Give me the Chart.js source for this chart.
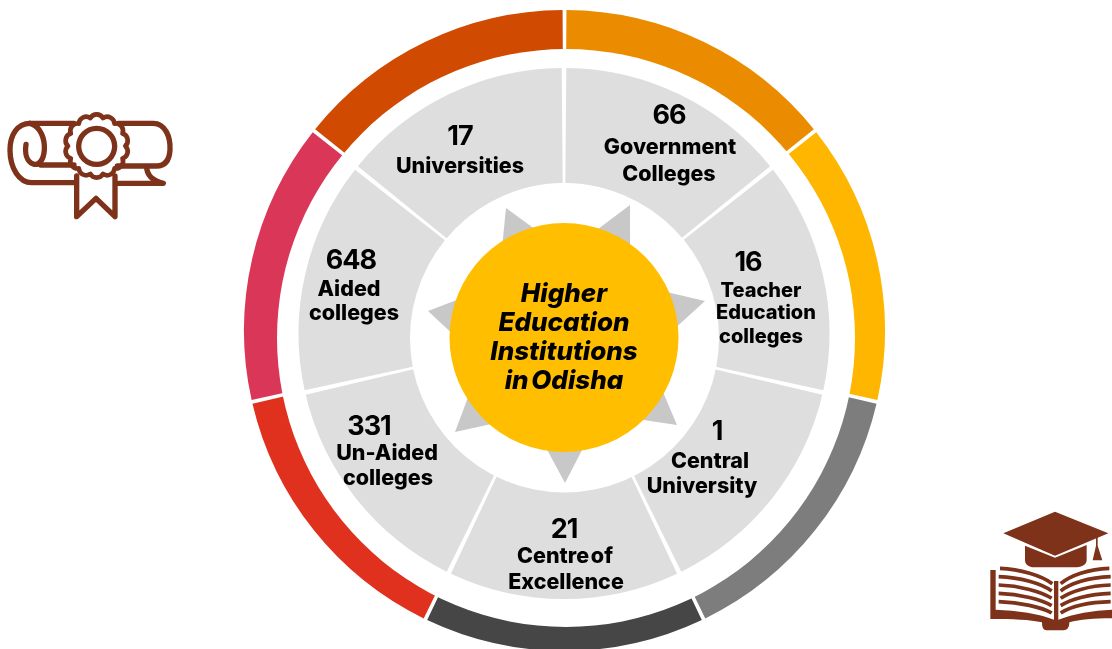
<!DOCTYPE html>
<html>
<head>
<meta charset="utf-8">
<title>Higher Education Institutions in Odisha</title>
<script src="https://cdn.jsdelivr.net/npm/chart.js@4"></script>
<style>
html, body { margin: 0; padding: 0; width: 1112px; height: 649px; overflow: hidden; background: #fff; }
canvas { position: absolute; left: 0; top: 0; }
svg { position: absolute; }
</style>
</head>
<body>
<canvas id="outerRing" width="1129" height="661"></canvas>
<canvas id="innerRing" width="1128" height="667"></canvas>

<svg style="left:0;top:100px" width="185" height="125" viewBox="0 0 555 375" fill="none" stroke="#7d3219" stroke-width="16" stroke-linecap="round" stroke-linejoin="round">
  <path d="M222 70H90C52 70 30 105 30 150C30 205 58 248 95 248H225"/>
  <path d="M90 70C122 78 135 118 133 150C131 180 116 198 100 192C80 185 74 160 78 133"/>
  <path d="M122 195H222"/>
  <path d="M355 70H460C495 70 512 110 510 150C508 180 495 198 470 198H352"/>
  <path d="M440 200C440 222 452 240 490 250H350"/>
  <path id="rosette" stroke-width="14"/>
  <circle cx="290" cy="139" r="54"/>
  <path d="M230 228V350L288 295L345 350V228"/>
</svg>

<svg style="left:980px;top:505px" width="132" height="130" viewBox="0 0 396 390" fill="#7d3219" stroke="none">
  <path d="M225 20L385 85L225 152L70 85Z"/>
  <path d="M135 122L225 158L320 120V165C320 182 300 187 285 187H165C148 187 135 180 135 165Z"/>
  <path d="M348 95H353V122L367 166H338L348 122Z"/>
  <g fill="none" stroke="#7d3219" stroke-width="11">
    <path d="M60 190C120 192 185 212 217 236"/>
    <path d="M56 215C120 217 185 236 215 258"/>
    <path d="M56 240C120 242 185 260 215 280"/>
    <path d="M56 265C120 267 185 284 215 302"/>
    <path d="M56 290C120 292 185 306 215 324"/>
    <path d="M388 190C325 192 270 212 242 236"/>
    <path d="M392 215C325 217 270 236 242 258"/>
    <path d="M392 240C325 242 270 260 242 280"/>
    <path d="M392 265C325 267 270 284 242 302"/>
    <path d="M392 290C325 292 270 306 242 324"/>
  </g>
  <path d="M222 228H235V345H222Z"/>
  <path d="M31 195H47V314C110 316 180 326 222 344H235C280 326 340 316 396 314V340C340 340 300 344 268 352C268 368 262 376 250 376H200C190 376 186 368 186 352C150 344 100 342 31 342Z"/>
</svg>

<script>
// slices are drawn the same size whatever the count
const categories = ['Government Colleges', 'Teacher Education colleges', 'Central University', 'Centre of Excellence', 'Un-Aided colleges', 'Aided colleges', 'Universities'];
const counts = ['66', '16', '1', '21', '331', '648', '17'];
const sliceSizes = [1, 1, 1, 1, 1, 1, 1];
const ringColors = ['#eb8c00', '#ffb600', '#7d7d7d', '#464646', '#e0301e', '#d93658', '#d04a02'];
const centreLines = ['Higher', 'Education', 'Institutions', 'in Odisha'];

const labelLines = [
    ['Government', 'Colleges'],
    ['Teacher', 'Education', 'colleges'],
    ['Central', 'University'],
    ['Centre of', 'Excellence'],
    ['Un-Aided', 'colleges'],
    ['Aided', 'colleges'],
    ['Universities']
];

// text placement: count first, then one per line
const labelPlaces = [
    [[669, 116], [670, 148], [669, 175]],
    [[748, 263], [761, 291], [766, 313], [761, 337]],
    [[717, 432], [710, 462], [702, 487]],
    [[564, 530], [565, 557], [566, 583]],
    [[369, 427], [387, 454], [388, 479]],
    [[351, 261], [349, 290], [354, 314]],
    [[460, 137], [460, 167]]
];
const labelFontSizes = [21.5, 20, 21.5, 21.5, 21.5, 21.5, 21.5];

// tips of the grey star behind the circle
const starTips = [[630, 205], [705, 301], [677, 425], [565, 483], [455, 432], [428, 311], [506, 208]];

// scalloped edge of the seal on the scroll icon
const makeRosette = function(cx, cy, r, bumps) {
    let d = '';
    for (let i = 0; i <= bumps; i++) {
        const a = i * 2 * Math.PI / bumps;
        const x = (cx + r * Math.cos(a)).toFixed(1), y = (cy + r * Math.sin(a)).toFixed(1);
        d += i === 0 ? 'M' + x + ' ' + y : 'A22 22 0 0 1 ' + x + ' ' + y;
    }
    return d + 'Z';
};
document.getElementById('rosette').setAttribute('d', makeRosette(290, 138, 86, 14));

// holes are not concentric with the rings in the picture
const outerHole = {
    id: 'outerHole',
    afterDraw: function(chart) {
        const ctx = chart.ctx;
        ctx.save();
        ctx.fillStyle = '#fff';
        ctx.beginPath();
        ctx.arc(566, 338, 289, 0, Math.PI * 2);
        ctx.fill();
        ctx.restore();
    }
};

const centrePlugin = {
    id: 'centrePlugin',
    afterDraw: function(chart) {
        const ctx = chart.ctx;
        const cx = 564, cy = 337.5;

        ctx.save();

        ctx.fillStyle = '#fff';
        ctx.beginPath();
        ctx.arc(564.5, 338, 154.5, 0, Math.PI * 2);
        ctx.fill();

        ctx.fillStyle = '#c8c8c8';
        starTips.forEach(function(tip) {
            const dx = tip[0] - cx, dy = tip[1] - cy;
            const len = Math.sqrt(dx * dx + dy * dy);
            const nx = dx / len, ny = dy / len;
            ctx.beginPath();
            ctx.moveTo(tip[0], tip[1]);
            ctx.lineTo(cx + nx * 100 - ny * 24, cy + ny * 100 + nx * 24);
            ctx.lineTo(cx + nx * 100 + ny * 24, cy + ny * 100 - nx * 24);
            ctx.closePath();
            ctx.fill();
        });

        ctx.fillStyle = '#ffbf00';
        ctx.beginPath();
        ctx.arc(cx, cy, 114.5, 0, Math.PI * 2);
        ctx.fill();

        ctx.textAlign = 'center';
        ctx.textBaseline = 'middle';
        ctx.fillStyle = '#000';
        ctx.wordSpacing = '-3px';
        ctx.font = 'italic 800 26px Inter';
        centreLines.forEach(function(line, i) {
            ctx.fillText(line, 564, 294 + i * 29);
        });

        labelLines.forEach(function(lines, i) {
            const places = labelPlaces[i];
            ctx.font = '700 27px Inter';
            ctx.letterSpacing = '-1px';
            ctx.fillText(counts[i], places[0][0], places[0][1]);
            ctx.letterSpacing = '0px';
            ctx.font = '800 ' + labelFontSizes[i] + 'px Inter';
            lines.forEach(function(line, j) {
                ctx.fillText(line, places[j + 1][0], places[j + 1][1]);
            });
        });
        ctx.restore();
    }
};

const ringOptions = function(radius, cutout) {
    return {
        responsive: false,
        animation: false,
        radius: radius,
        cutout: cutout,
        plugins: { legend: { display: false }, tooltip: { enabled: false } }
    };
};

new Chart(document.getElementById('outerRing'), {
    type: 'doughnut',
    data: {
        labels: categories,
        datasets: [{ data: sliceSizes, backgroundColor: ringColors, borderWidth: 0, spacing: 8 }]
    },
    options: ringOptions(316.5, '87.2%'),
    plugins: [outerHole]
});

new Chart(document.getElementById('innerRing'), {
    type: 'doughnut',
    data: {
        labels: categories,
        datasets: [{ data: sliceSizes, backgroundColor: '#dedede', borderWidth: 0, spacing: 8 }]
    },
    options: ringOptions(261.5, '56%'),
    plugins: [centrePlugin]
});
</script>
</body>
</html>
